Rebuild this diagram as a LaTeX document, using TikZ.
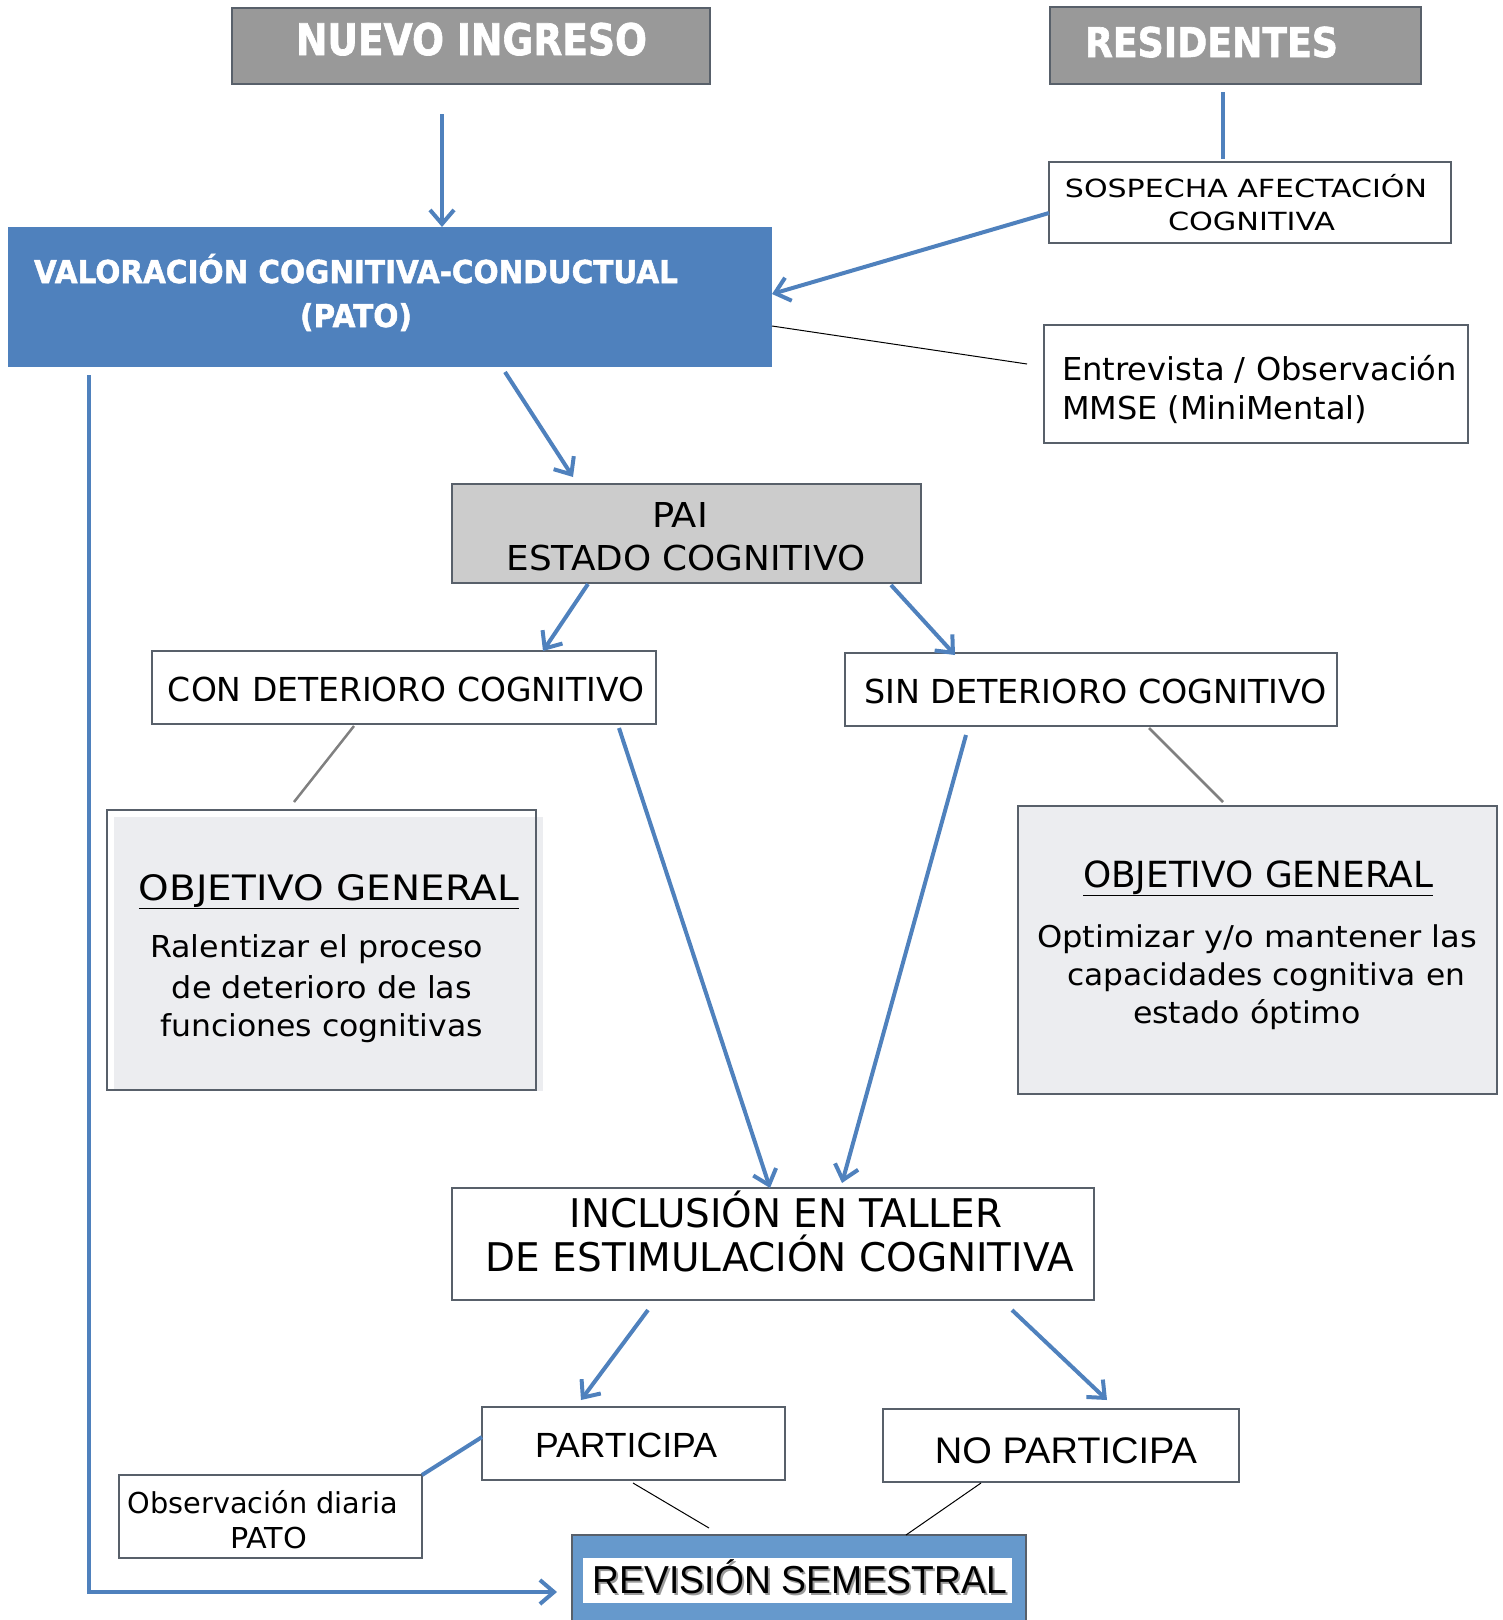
\documentclass[tikz,border=0pt]{standalone}
\usepackage{fontspec}
\usepackage{graphicx}
\setmainfont{DejaVu Sans}
\newfontfamily\arialfont{Liberation Sans}
\newfontfamily\heavyfont{DejaVu Sans Bold}[FakeBold=1.6]
\usetikzlibrary{arrows.meta}

\definecolor{flowblue}{HTML}{4F81BD}
\definecolor{headgray}{HTML}{999999}
\definecolor{edgegray}{HTML}{58606A}
\definecolor{paigray}{HTML}{CCCCCC}
\definecolor{goalfill}{HTML}{ECEDF0}
\definecolor{revblue}{HTML}{6699CC}
\definecolor{shadowgray}{HTML}{9A9A9A}

% stretch a line of text horizontally to a given width, keeping its height
\newcommand\fitw[2]{\resizebox{#1}{\height}{#2}}
\newcommand\fsz[1]{\fontsize{#1pt}{#1pt}\selectfont}

\begin{document}
\begin{tikzpicture}[x=1pt,y=-1pt,
  box/.style={draw=edgegray,line width=2.5pt,rectangle,inner sep=0pt,outer sep=0pt},
  lbl/.style={inner sep=0pt,outer sep=0pt,anchor=base},
  flow/.style={draw=flowblue,line width=4pt,-{Straight Barb[length=14pt,width=24pt]}},
  link/.style={draw=flowblue,line width=4pt},
  thinline/.style={draw=black,line width=1pt},
  tie/.style={draw=gray,line width=2.5pt}]

\useasboundingbox (0,0) rectangle (1503,1620);

% ---------- boxes ----------
\node[box,fill=headgray,minimum width=478pt,minimum height=76pt] (nuevo) at (471,46) {};
\node[box,fill=headgray,minimum width=371pt,minimum height=77pt] (res) at (1235.5,45.5) {};
\node[rectangle,fill=flowblue,inner sep=0pt,outer sep=0pt,minimum width=764pt,minimum height=140pt] (val) at (390,297) {};
\node[box,fill=white,minimum width=402pt,minimum height=81pt] (sosp) at (1250,202.5) {};
\node[box,fill=white,minimum width=424pt,minimum height=118pt] (entr) at (1256,384) {};
\node[box,fill=paigray,minimum width=469pt,minimum height=99pt] (pai) at (686.5,533.5) {};
\node[box,fill=white,minimum width=504pt,minimum height=73pt] (con) at (404,687.5) {};
\node[box,fill=white,minimum width=492pt,minimum height=73pt] (sin) at (1091,689.5) {};
\fill[goalfill] (114,817) rectangle (543,1091);
\node[box,minimum width=429pt,minimum height=280pt] (obj1) at (321.5,950) {};
\node[box,fill=goalfill,minimum width=479pt,minimum height=288pt] (obj2) at (1257.5,950) {};
\node[box,fill=white,minimum width=642pt,minimum height=112pt] (inc) at (773,1244) {};
\node[box,fill=white,minimum width=303pt,minimum height=73pt] (part) at (633.5,1443.5) {};
\node[box,fill=white,minimum width=356pt,minimum height=73pt] (nopart) at (1061,1445.5) {};
\node[box,fill=white,minimum width=303pt,minimum height=83pt] (obs) at (270.5,1516.5) {};
\node[box,fill=revblue,minimum width=454pt,minimum height=87pt] (rev) at (799,1578.5) {};
\fill[white] (583,1558) rectangle (1012,1603);

% ---------- texts ----------
\begin{scope}[every node/.style={lbl}]
\node[text=white,font=\heavyfont\fsz{43.5}] (nuevo-t) at (471.5,55) {\fitw{351pt}{NUEVO INGRESO}};
\node[text=white,font=\heavyfont\fsz{41}] (res-t) at (1211.5,57) {\fitw{253pt}{RESIDENTES}};
\node[text=white,font=\heavyfont\fsz{31.5}] (val-t1) at (356,283) {\fitw{644pt}{VALORACIÓN COGNITIVA-CONDUCTUAL}};
\node[text=white,font=\heavyfont\fsz{31.5}] (val-t2) at (356,327) {\fitw{112pt}{(PATO)}};
\node[font=\fsz{25}] (sosp-t1) at (1246,197) {\fitw{362pt}{SOSPECHA AFECTACIÓN}};
\node[font=\fsz{25}] (sosp-t2) at (1251.5,230) {\fitw{167pt}{COGNITIVA}};
\node[font=\fsz{31.5},anchor=base west] (entr-t1) at (1062,380.5) {\fitw{395pt}{Entrevista / Observación}};
\node[font=\fsz{31.5},anchor=base west] (entr-t2) at (1062,419.5) {\fitw{305pt}{MMSE (MiniMental)}};
\node[font=\fsz{34.3}] (pai-t1) at (680,527) {\fitw{56pt}{PAI}};
\node[font=\fsz{34.3}] (pai-t2) at (686,570) {\fitw{359pt}{ESTADO COGNITIVO}};
\node[font=\fsz{33}] (con-t) at (406,701) {\fitw{476pt}{CON DETERIORO COGNITIVO}};
\node[font=\fsz{33}] (sin-t) at (1095.5,703) {\fitw{463pt}{SIN DETERIORO COGNITIVO}};
\node[font=\fsz{35}] (obj1-t0) at (329,900) {\fitw{380pt}{\underline{OBJETIVO GENERAL}}};
\node[font=\fsz{30.2}] (obj1-t1) at (316.5,957) {\fitw{333pt}{Ralentizar el proceso}};
\node[font=\fsz{30.2}] (obj1-t2) at (322,998) {\fitw{300pt}{de deterioro de las}};
\node[font=\fsz{30.2}] (obj1-t3) at (321.5,1036) {\fitw{323pt}{funciones cognitivas}};
\node[font=\fsz{36}] (obj2-t0) at (1258,887) {\fitw{350pt}{\underline{OBJETIVO GENERAL}}};
\node[font=\fsz{30}] (obj2-t1) at (1257,947) {\fitw{440pt}{Optimizar y/o mantener las}};
\node[font=\fsz{30}] (obj2-t2) at (1266,985) {\fitw{398pt}{capacidades cognitiva en}};
\node[font=\fsz{30}] (obj2-t3) at (1247,1023) {\fitw{228pt}{estado óptimo}};
\node[font=\fsz{39.5}] (inc-t1) at (786,1227) {\fitw{432pt}{INCLUSIÓN EN TALLER}};
\node[font=\fsz{39.5}] (inc-t2) at (780,1271) {\fitw{588pt}{DE ESTIMULACIÓN COGNITIVA}};
\node[font=\arialfont\fsz{35}] (part-t) at (626,1457) {\fitw{182pt}{PARTICIPA}};
\node[font=\arialfont\fsz{37}] (nopart-t) at (1066,1463) {\fitw{262pt}{NO PARTICIPA}};
\node[font=\fsz{28.8}] (obs-t1) at (263,1513) {\fitw{270pt}{Observación diaria}};
\node[font=\fsz{28.8}] (obs-t2) at (268.5,1548) {\fitw{77pt}{PATO}};
\node[text=shadowgray,font=\arialfont\fsz{39}] (rev-s) at (802,1595) {\fitw{414pt}{REVISIÓN SEMESTRAL}};
\node[font=\arialfont\fsz{39}] (rev-t) at (800,1593) {\fitw{414pt}{REVISIÓN SEMESTRAL}};
\end{scope}

% ---------- connectors ----------
\draw[flow] ([xshift=210pt,yshift=-30pt]nuevo.south west) -- ([xshift=434pt]val.north west);
\draw[link] ([xshift=173pt,yshift=-8pt]res.south west) -- ([xshift=174pt,yshift=3pt]sosp.north west);
\draw[flow] ([yshift=-10.5pt]sosp.west) -- ([yshift=3pt]val.east);
\draw[thinline] ([yshift=-29pt]val.east) -- ([xshift=-17pt,yshift=20pt]entr.west);
\draw[flow] ([xshift=497pt,yshift=-5pt]val.south west) -- ([xshift=121pt,yshift=7pt]pai.north west);
\draw[flow] ([xshift=136pt,yshift=-1pt]pai.south west) -- ([xshift=391pt]con.north west);
\draw[flow] ([xshift=439pt,yshift=-2pt]pai.south west) -- ([xshift=110pt,yshift=-2pt]sin.north west);
\draw[tie] ([xshift=202pt,yshift=-2pt]con.south west) -- ([xshift=187pt,yshift=8pt]obj1.north west);
\draw[tie] ([xshift=304pt,yshift=-2pt]sin.south west) -- ([xshift=205pt,yshift=4pt]obj2.north west);
\draw[flow] ([xshift=467pt,yshift=-4pt]con.south west) -- ([xshift=318pt]inc.north west);
\draw[flow] ([xshift=121pt,yshift=-9pt]sin.south west) -- ([xshift=390pt,yshift=5pt]inc.north west);
\draw[flow] ([xshift=196pt,yshift=-10pt]inc.south west) -- ([xshift=99pt,yshift=7pt]part.north west);
\draw[flow] ([xshift=560pt,yshift=-10pt]inc.south west) -- ([xshift=224pt,yshift=9pt]nopart.north west);
\draw[link] (obs.north east) -- ([yshift=6.5pt]part.west);
\draw[thinline] ([xshift=151pt,yshift=-3pt]part.south west) -- ([xshift=137pt,yshift=7pt]rev.north west);
\draw[thinline] ([xshift=98pt,yshift=-1pt]nopart.south west) -- ([xshift=334pt]rev.north west);
\draw[flow] ([xshift=81pt,yshift=-8pt]val.south west) |- ([xshift=-15pt,yshift=-13.5pt]rev.west);

\end{tikzpicture}
\end{document}
